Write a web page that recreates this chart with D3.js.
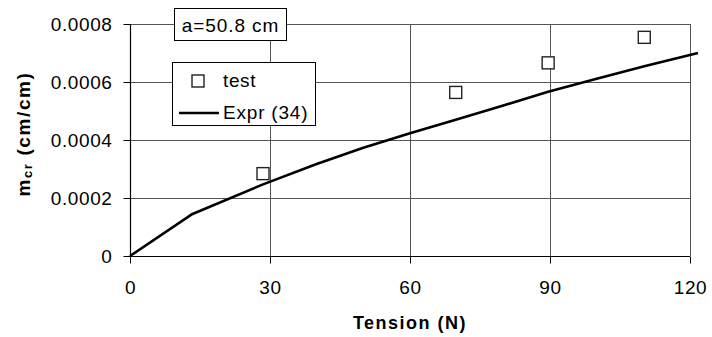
<!DOCTYPE html>
<html>
<head>
<meta charset="utf-8">
<script src="https://cdn.jsdelivr.net/npm/d3@7"></script>
<style>
  body { margin: 0; background: #fff; }
  svg { display: block; }
  text { font-family: "Liberation Sans", Arial, sans-serif; fill: #000; }
</style>
</head>
<body>
<svg id="chart" width="712" height="337"></svg>
<script>
// ---- data ----
const xTicks = [0, 30, 60, 90, 120];
const yTicks = [0, 0.0002, 0.0004, 0.0006, 0.0008];
const yTickLabels = ["0", "0.0002", "0.0004", "0.0006", "0.0008"];
const testT = [28.5, 69.8, 89.6, 110.2];
const testM = [0.000284, 0.000564, 0.000666, 0.000754];
const exprT = [0, 13.4, 28.5, 40, 50, 60, 69.8, 80, 89.6, 100, 110.2, 121.7];
const exprM = [0, 0.000145, 0.000247, 0.000317, 0.000373, 0.000423, 0.000470, 0.000519, 0.000566, 0.000611, 0.000654, 0.000700];
const seriesNames = ["test", "Expr (34)"];
const annotation = "a=50.8 cm";
const xTitle = "Tension (N)";

// ---- layout ----
const svg = d3.select("#chart");
const x = d3.scaleLinear().domain([0, 120]).range([130, 690]);
const y = d3.scaleLinear().domain([0, 0.0008]).range([256, 24]);
const gridColor = "#555";

// gridlines
const grid = svg.append("g");
grid.selectAll("line.h").data(yTicks.slice(1)).join("line")
  .attr("x1", x(0)).attr("x2", x(120))
  .attr("y1", d => Math.round(y(d)) + 0.5).attr("y2", d => Math.round(y(d)) + 0.5)
  .attr("stroke", gridColor).attr("stroke-width", 1);
grid.selectAll("line.v").data(xTicks.slice(1)).join("line")
  .attr("y1", y(0)).attr("y2", y(0.0008))
  .attr("x1", d => Math.round(x(d)) + 0.5).attr("x2", d => Math.round(x(d)) + 0.5)
  .attr("stroke", gridColor).attr("stroke-width", 1);

// axes
const xAxis = d3.axisBottom(x).tickValues(xTicks).tickSize(7).tickPadding(17).tickFormat(d3.format("d"));
const yAxis = d3.axisLeft(y).tickValues(yTicks).tickSize(7).tickPadding(11)
  .tickFormat((d, i) => yTickLabels[i]);

const gx = svg.append("g").attr("transform", `translate(0,${Math.round(y(0)) + 0.5})`).call(xAxis);
const gy = svg.append("g").attr("transform", `translate(${Math.round(x(0)) + 0.5},0)`).call(yAxis);
[gx, gy].forEach(g => {
  g.select(".domain").attr("stroke", "#000").attr("stroke-width", 1.2);
  g.selectAll(".tick line").attr("stroke", "#000");
  g.selectAll(".tick text").style("font-size", "19px").style("letter-spacing", "0.6px")
    .style("font-family", "'Liberation Sans', Arial, sans-serif").attr("fill", "#000");
});
gx.select(".domain").attr("d", `M${x(0)},0H${x(120)}`);
gy.select(".domain").attr("d", `M0,${y(0)}V${y(0.0008)}`);

// axis titles
svg.append("text").attr("x", 410).attr("y", 329).attr("text-anchor", "middle")
  .style("font-size", "18px").style("font-weight", "bold").style("letter-spacing", "1.5px")
  .text(xTitle);

const yt = svg.append("text").attr("transform", "translate(30,134) rotate(-90)")
  .attr("text-anchor", "middle").style("font-size", "19px").style("font-weight", "bold")
  .style("letter-spacing", "1.6px");
yt.append("tspan").text("m");
yt.append("tspan").text("cr").style("font-size", "13px").attr("dy", 2);
yt.append("tspan").text(" (cm/cm)").attr("dy", -2);

// expression line
const line = d3.line().x((d, i) => x(exprT[i])).y((d, i) => y(exprM[i]));
svg.append("path").datum(exprM).attr("d", line)
  .attr("fill", "none").attr("stroke", "#000").attr("stroke-width", 2.6)
  .attr("stroke-linejoin", "round");

// test markers
const ms = 12;
svg.append("g").selectAll("rect").data(testM).join("rect")
  .attr("x", (d, i) => x(testT[i]) - ms / 2).attr("y", d => y(d) - ms / 2)
  .attr("width", ms).attr("height", ms)
  .attr("fill", "#fff").attr("stroke", "#222").attr("stroke-width", 1.4);

// annotation box
svg.append("rect").attr("x", 174.5).attr("y", 8.5).attr("width", 112).attr("height", 32)
  .attr("fill", "#fff").attr("stroke", "#000").attr("stroke-width", 1);
svg.append("text").attr("x", 230.5).attr("y", 32).attr("text-anchor", "middle")
  .style("font-size", "19px").style("letter-spacing", "0.9px").text(annotation);

// legend
const lg = svg.append("g");
lg.append("rect").attr("x", 172.5).attr("y", 62.5).attr("width", 143).attr("height", 63)
  .attr("fill", "#fff").attr("stroke", "#000").attr("stroke-width", 1);
lg.append("rect").attr("x", 198 - ms / 2).attr("y", 81 - ms / 2).attr("width", ms).attr("height", ms)
  .attr("fill", "#fff").attr("stroke", "#222").attr("stroke-width", 1.4);
lg.append("text").attr("x", 223).attr("y", 87).style("font-size", "19px").style("letter-spacing", "0.6px").text(seriesNames[0]);
lg.append("line").attr("x1", 179).attr("x2", 219).attr("y1", 113).attr("y2", 113)
  .attr("stroke", "#000").attr("stroke-width", 2.6);
lg.append("text").attr("x", 223).attr("y", 119).style("font-size", "19px").style("letter-spacing", "0.8px").text(seriesNames[1]);
</script>
</body>
</html>
